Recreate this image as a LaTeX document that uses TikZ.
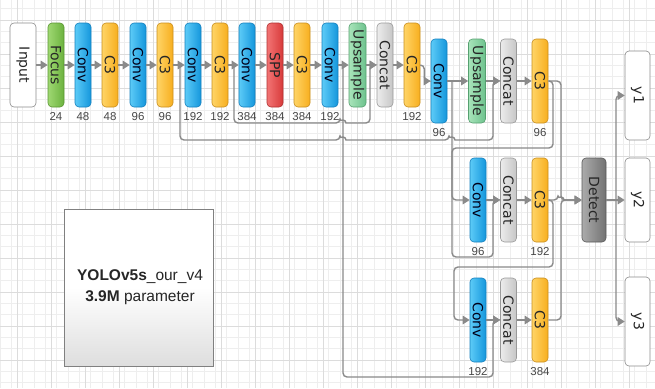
\documentclass[tikz,border=0pt]{standalone}
\usepackage{fontspec}
\setmainfont{DejaVu Sans}
\newfontfamily\numfont{Liberation Sans}
\newfontfamily\infofont{Liberation Sans}
\usetikzlibrary{arrows.meta}
\definecolor{convL}{HTML}{5CCBF7}\definecolor{convR}{HTML}{1496DC}\definecolor{convD}{HTML}{1580BE}
\definecolor{c3L}{HTML}{FFD466}\definecolor{c3R}{HTML}{F7AE1E}\definecolor{c3D}{HTML}{C98E1E}
\definecolor{focL}{HTML}{9FD872}\definecolor{focR}{HTML}{6BB23E}\definecolor{focD}{HTML}{5A9632}
\definecolor{sppL}{HTML}{F27474}\definecolor{sppR}{HTML}{D83A3A}\definecolor{sppD}{HTML}{B03030}
\definecolor{upL}{HTML}{A8E4BA}\definecolor{upR}{HTML}{6DC28D}\definecolor{upD}{HTML}{56A070}
\definecolor{catL}{HTML}{ECECEC}\definecolor{catR}{HTML}{C6C6C6}\definecolor{catD}{HTML}{9A9A9A}
\definecolor{detL}{HTML}{ABABAB}\definecolor{detR}{HTML}{727272}\definecolor{detD}{HTML}{5A5A5A}
\definecolor{lnk}{HTML}{8A8A8A}
\definecolor{gmin}{HTML}{EEEEEE}\definecolor{gmaj}{HTML}{DCDCDC}
\tikzset{
  blk/.style={rounded corners=4pt, line width=0.6pt, minimum width=16pt, minimum height=84pt,
    inner sep=0pt, font=\fontsize{14}{14}\selectfont, text=black!85},
  convb/.style={blk, left color=convL, right color=convR, draw=convD, text=black!90!blue},
  c3b/.style={blk, left color=c3L, right color=c3R, draw=c3D},
  focb/.style={blk, left color=focL, right color=focR, draw=focD},
  sppb/.style={blk, left color=sppL, right color=sppR, draw=sppD},
  upb/.style={blk, left color=upL, right color=upR, draw=upD, minimum width=17pt},
  catb/.style={blk, left color=catL, right color=catR, draw=catD},
  detb/.style={blk, left color=detL, right color=detR, draw=detD, minimum width=24pt},
  iob/.style={blk, fill=white, draw=black!45, minimum width=26pt},
  numl/.style={font=\numfont\fontsize{11.5}{11.5}\selectfont, text=black!72, inner sep=0pt, yshift=-4.5pt},
  conn/.style={draw=lnk, line width=1.4pt, rounded corners=4pt},
  arr/.style={conn, -{Triangle[length=7pt,width=8.5pt]}},
  gridmin/.style={draw=gmin, line width=0.5pt},
  gridmaj/.style={draw=gmaj, line width=0.6pt}
}
\newcommand{\rt}[1]{\rotatebox{-90}{#1}}
\begin{document}
\begin{tikzpicture}[x=1pt,y=-1pt]
\useasboundingbox (0,0) rectangle (655,388);
\fill[white] (0,0) rectangle (655,388);
% grid
\foreach \i in {0,...,58} {\draw[gridmin] (\i*11.333,0) -- (\i*11.333,388);}
\foreach \i in {0,...,35} {\draw[gridmin] (0,\i*11.333-2.7) -- (655,\i*11.333-2.7);}
\foreach \i in {0,...,19} {\draw[gridmaj] (\i*34+17,0) -- (\i*34+17,388);}
\foreach \i in {0,...,11} {\draw[gridmaj] (0,\i*34+20) -- (655,\i*34+20);}

% info box
\node[draw=black!50, line width=0.6pt, top color=white, bottom color=black!13, middle color=white,
  minimum width=149pt, minimum height=157pt, inner sep=0pt] (info) at (138.5,287.5) {};
\node[font=\infofont\fontsize{15.5}{21}\selectfont, align=center, text=black!85] (infotxt) at (140,287.5)
  {\textbf{YOLOv5s}\_our\_v4\\\textbf{3.9M} parameter};

% row 1
\node[iob] (in) at (23,65) {\rt{Input}};
\node[focb, label={[numl]below:24}] (focus) at (56,65) {\rt{Focus}};
\node[convb, label={[numl]below:48}] (cv1) at (83,65) {\rt{Conv}};
\node[c3b, label={[numl]below:48}] (c31) at (110,65) {\rt{C3}};
\node[convb, label={[numl]below:96}] (cv2) at (138,65) {\rt{Conv}};
\node[c3b, label={[numl]below:96}] (c32) at (165,65) {\rt{C3}};
\node[convb, label={[numl]below:192}] (cv3) at (193,65) {\rt{Conv}};
\node[c3b, label={[numl]below:192}] (c33) at (220,65) {\rt{C3}};
\node[convb, label={[numl]below:384}] (cv4) at (247,65) {\rt{Conv}};
\node[sppb, label={[numl]below:384}] (spp) at (275,65) {\rt{SPP}};
\node[c3b, label={[numl]below:384}] (c34) at (302,65) {\rt{C3}};
\node[convb, label={[numl]below:192}] (cv5) at (330,65) {\rt{Conv}};
\node[upb] (up1) at (357.5,65) {\rt{Upsample}};
\node[catb] (cat1) at (385,65) {\rt{Concat}};
\node[c3b, label={[numl]below:192}] (c35) at (412,65) {\rt{C3}};
% row 2
\node[convb, label={[numl]below:96}] (cv6) at (439,81) {\rt{Conv}};
\node[upb] (up2) at (477,81) {\rt{Upsample}};
\node[catb] (cat2) at (508.5,81) {\rt{Concat}};
\node[c3b, label={[numl]below:96}] (c36) at (540,81) {\rt{C3}};
% row 3
\node[convb, label={[numl]below:96}] (cv7) at (478,200) {\rt{Conv}};
\node[catb] (cat3) at (508.5,200) {\rt{Concat}};
\node[c3b, label={[numl]below:192}] (c37) at (540,200) {\rt{C3}};
\node[detb] (det) at (594,200) {\rt{Detect}};
% row 4
\node[convb, label={[numl]below:192}] (cv8) at (478,320) {\rt{Conv}};
\node[catb] (cat4) at (508.5,320) {\rt{Concat}};
\node[c3b, label={[numl]below:384}] (c38) at (540,320) {\rt{C3}};
% outputs
\node[iob, minimum width=25pt, minimum height=89pt] (y1) at (637.5,95.5) {\rt{y1}};
\node[iob, minimum width=25pt] (y2) at (637.5,200) {\rt{y2}};
\node[iob, minimum width=25pt, minimum height=89pt] (y3) at (637.5,321.5) {\rt{y3}};

% branch coordinates
\coordinate (bE) at (180,65);
\coordinate (bD) at (234,65);
\coordinate (bF) at (343,65);
\coordinate (bA) at (452,81);
\coordinate (bY) at (616,200);

% skip connections
\draw[arr] (bD) -- (234,123) -- (340,123) [sharp corners] arc(180:360:3) [rounded corners=4pt] -- (370,123) |- (cat1.west);
\draw[arr] (bE) -- (180,140) -- (340,140) [sharp corners] arc(180:360:3) [rounded corners=4pt] -- (449,140) [sharp corners] arc(180:360:3) [rounded corners=4pt] -- (493,140) |- (cat2.west);
\draw[arr] (bF) -- (343,377) -- (493,377) |- (cat4.west);
\draw[arr] (bA) -- (452,257) -- (493,257) |- (cat3.west);
\draw[arr] (c36.east) -- (553,81) -- (553,148) -- (452,148) |- (cv7.west);
\draw[arr] (c37.east) -- (553,200) -- (553,267) -- (454,267) |- (cv8.west);
\draw[arr] (c36.east) -- (561,81) -- (561,200) -- (det.west);
\draw[arr] (c38.east) -- (561,320) -- (561,200) -- (det.west);
\draw[arr] (c37.east) -- (558,200) [sharp corners] arc(180:360:3) -- (det.west);

% main chain
\foreach \a/\b in {in/focus,focus/cv1,cv1/c31,c31/cv2,cv2/c32,c32/cv3,cv3/c33,c33/cv4,cv4/spp,spp/c34,c34/cv5,cv5/up1,up1/cat1,cat1/c35,cv6/up2,up2/cat2,cat2/c36,cv7/cat3,cat3/c37,cv8/cat4,cat4/c38,det/y2}
  {\draw[arr] (\a.east) -- (\b.west);}
\draw[arr] (c35.east) -- ++(4,0) |- (cv6.west);
\draw[arr] (bY) |- (y1.west);
\draw[arr] (bY) |- (y3.west);
\end{tikzpicture}
\end{document}
